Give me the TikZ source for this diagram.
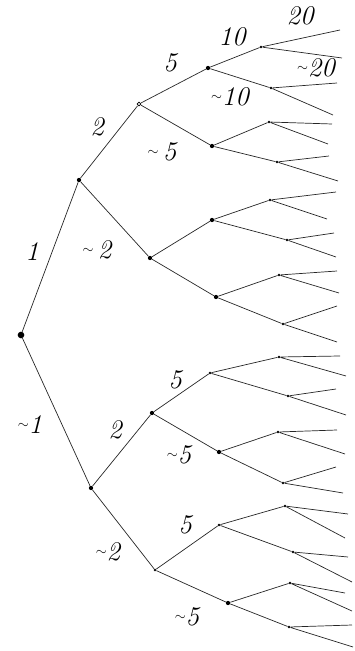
\documentclass[tikz,border=0pt]{standalone}
\usepackage{tikz}
\newcommand{\tld}{\raisebox{.45ex}{\fontsize{13}{13}\selectfont$\sim$}}
\begin{document}
\begin{tikzpicture}[
    x=0.03cm, y=-0.03cm,
    branch/.style={line width=0.6pt, black!85},
    root/.style={circle, fill=black, inner sep=2pt},
    knot/.style={circle, fill=black, inner sep=1.3pt},
    ring/.style={circle, draw=black, fill=white, inner sep=1.2pt, line width=0.6pt},
    twig/.style={circle, fill=black, inner sep=0.8pt},
    weight/.style={font=\fontsize{23}{25}\selectfont\itshape, inner sep=1pt}
]
\useasboundingbox (0,0) rectangle (354,651);
\node[root] (n) at (21,335) {};
\node[knot] (n1) at (79,180) {};
\node[knot] (n2) at (91,488) {};
\node[ring] (n11) at (139,104) {};
\node[knot] (n12) at (150,258) {};
\node[knot] (n21) at (152,413) {};
\node[twig] (n22) at (155,570) {};
\node[knot] (n111) at (208,68) {};
\node[knot] (n112) at (212,146) {};
\node[knot] (n121) at (212,220) {};
\node[knot] (n122) at (216,297) {};
\node[twig] (n211) at (210,373) {};
\node[knot] (n212) at (219,452) {};
\node[twig] (n221) at (219,525) {};
\node[knot] (n222) at (228,603) {};
\node[twig] (n1111) at (261,47) {};
\node[twig] (n1112) at (271,88) {};
\node[twig] (n1121) at (269,122) {};
\node[twig] (n1122) at (277,162) {};
\node[twig] (n1211) at (270,200) {};
\node[twig] (n1212) at (287,240) {};
\node[twig] (n1221) at (279,275) {};
\node[twig] (n1222) at (283,324) {};
\node[twig] (n2111) at (279,357) {};
\node[twig] (n2112) at (288,396) {};
\node[twig] (n2121) at (278,432) {};
\node[twig] (n2122) at (283,483) {};
\node[twig] (n2211) at (285,506) {};
\node[twig] (n2212) at (293,552) {};
\node[twig] (n2221) at (290,583) {};
\node[twig] (n2222) at (289,627) {};
\coordinate (n11111) at (340,30);  \coordinate (n11112) at (342,58);
\coordinate (n11121) at (337,83);  \coordinate (n11122) at (333,115);
\coordinate (n11211) at (332,124); \coordinate (n11212) at (328,144);
\coordinate (n11221) at (329,156); \coordinate (n11222) at (338,181);
\coordinate (n12111) at (336,192); \coordinate (n12112) at (327,219);
\coordinate (n12121) at (334,233); \coordinate (n12122) at (336,257);
\coordinate (n12211) at (337,271); \coordinate (n12212) at (339,293);
\coordinate (n12221) at (337,306); \coordinate (n12222) at (337,342);
\coordinate (n21111) at (340,356); \coordinate (n21112) at (346,376);
\coordinate (n21121) at (336,389); \coordinate (n21122) at (346,415);
\coordinate (n21211) at (337,430); \coordinate (n21212) at (345,454);
\coordinate (n21221) at (336,467); \coordinate (n21222) at (343,493);
\coordinate (n22111) at (348,514); \coordinate (n22112) at (345,538);
\coordinate (n22121) at (348,557); \coordinate (n22122) at (352,582);
\coordinate (n22211) at (345,593); \coordinate (n22212) at (352,611);
\coordinate (n22221) at (352,625); \coordinate (n22222) at (353,647);
\foreach \p in {n,n1,n2,n11,n12,n21,n22,n111,n112,n121,n122,n211,n212,n221,n222,
    n1111,n1112,n1121,n1122,n1211,n1212,n1221,n1222,
    n2111,n2112,n2121,n2122,n2211,n2212,n2221,n2222}
  \draw[branch] (\p) -- (\p1) (\p) -- (\p2);
\node[weight] (w1) at (32,252) {1};
\node[weight] (w2) at (30,425) {\tld1};
\node[weight] (w11) at (97,127) {2};
\node[weight] (w12) at (97,250) {\tld\,2};
\node[weight] (w111) at (170,63) {5};
\node[weight] (w112) at (162,152) {\tld\,5};
\node[weight] (w1111) at (232,37) {10};
\node[weight] (w1112) at (230,97) {\tld10};
\node[weight] (w11111) at (300,16) {20};
\node[weight] (w11112) at (316,68) {\tld20};
\node[weight] (w21) at (115,430) {2};
\node[weight] (w22) at (108,552) {\tld2};
\node[weight] (w211) at (175,380) {5};
\node[weight] (w212) at (179,455) {\tld5};
\node[weight] (w221) at (185,525) {5};
\node[weight] (w222) at (187,617) {\tld5};
\end{tikzpicture}
\end{document}
